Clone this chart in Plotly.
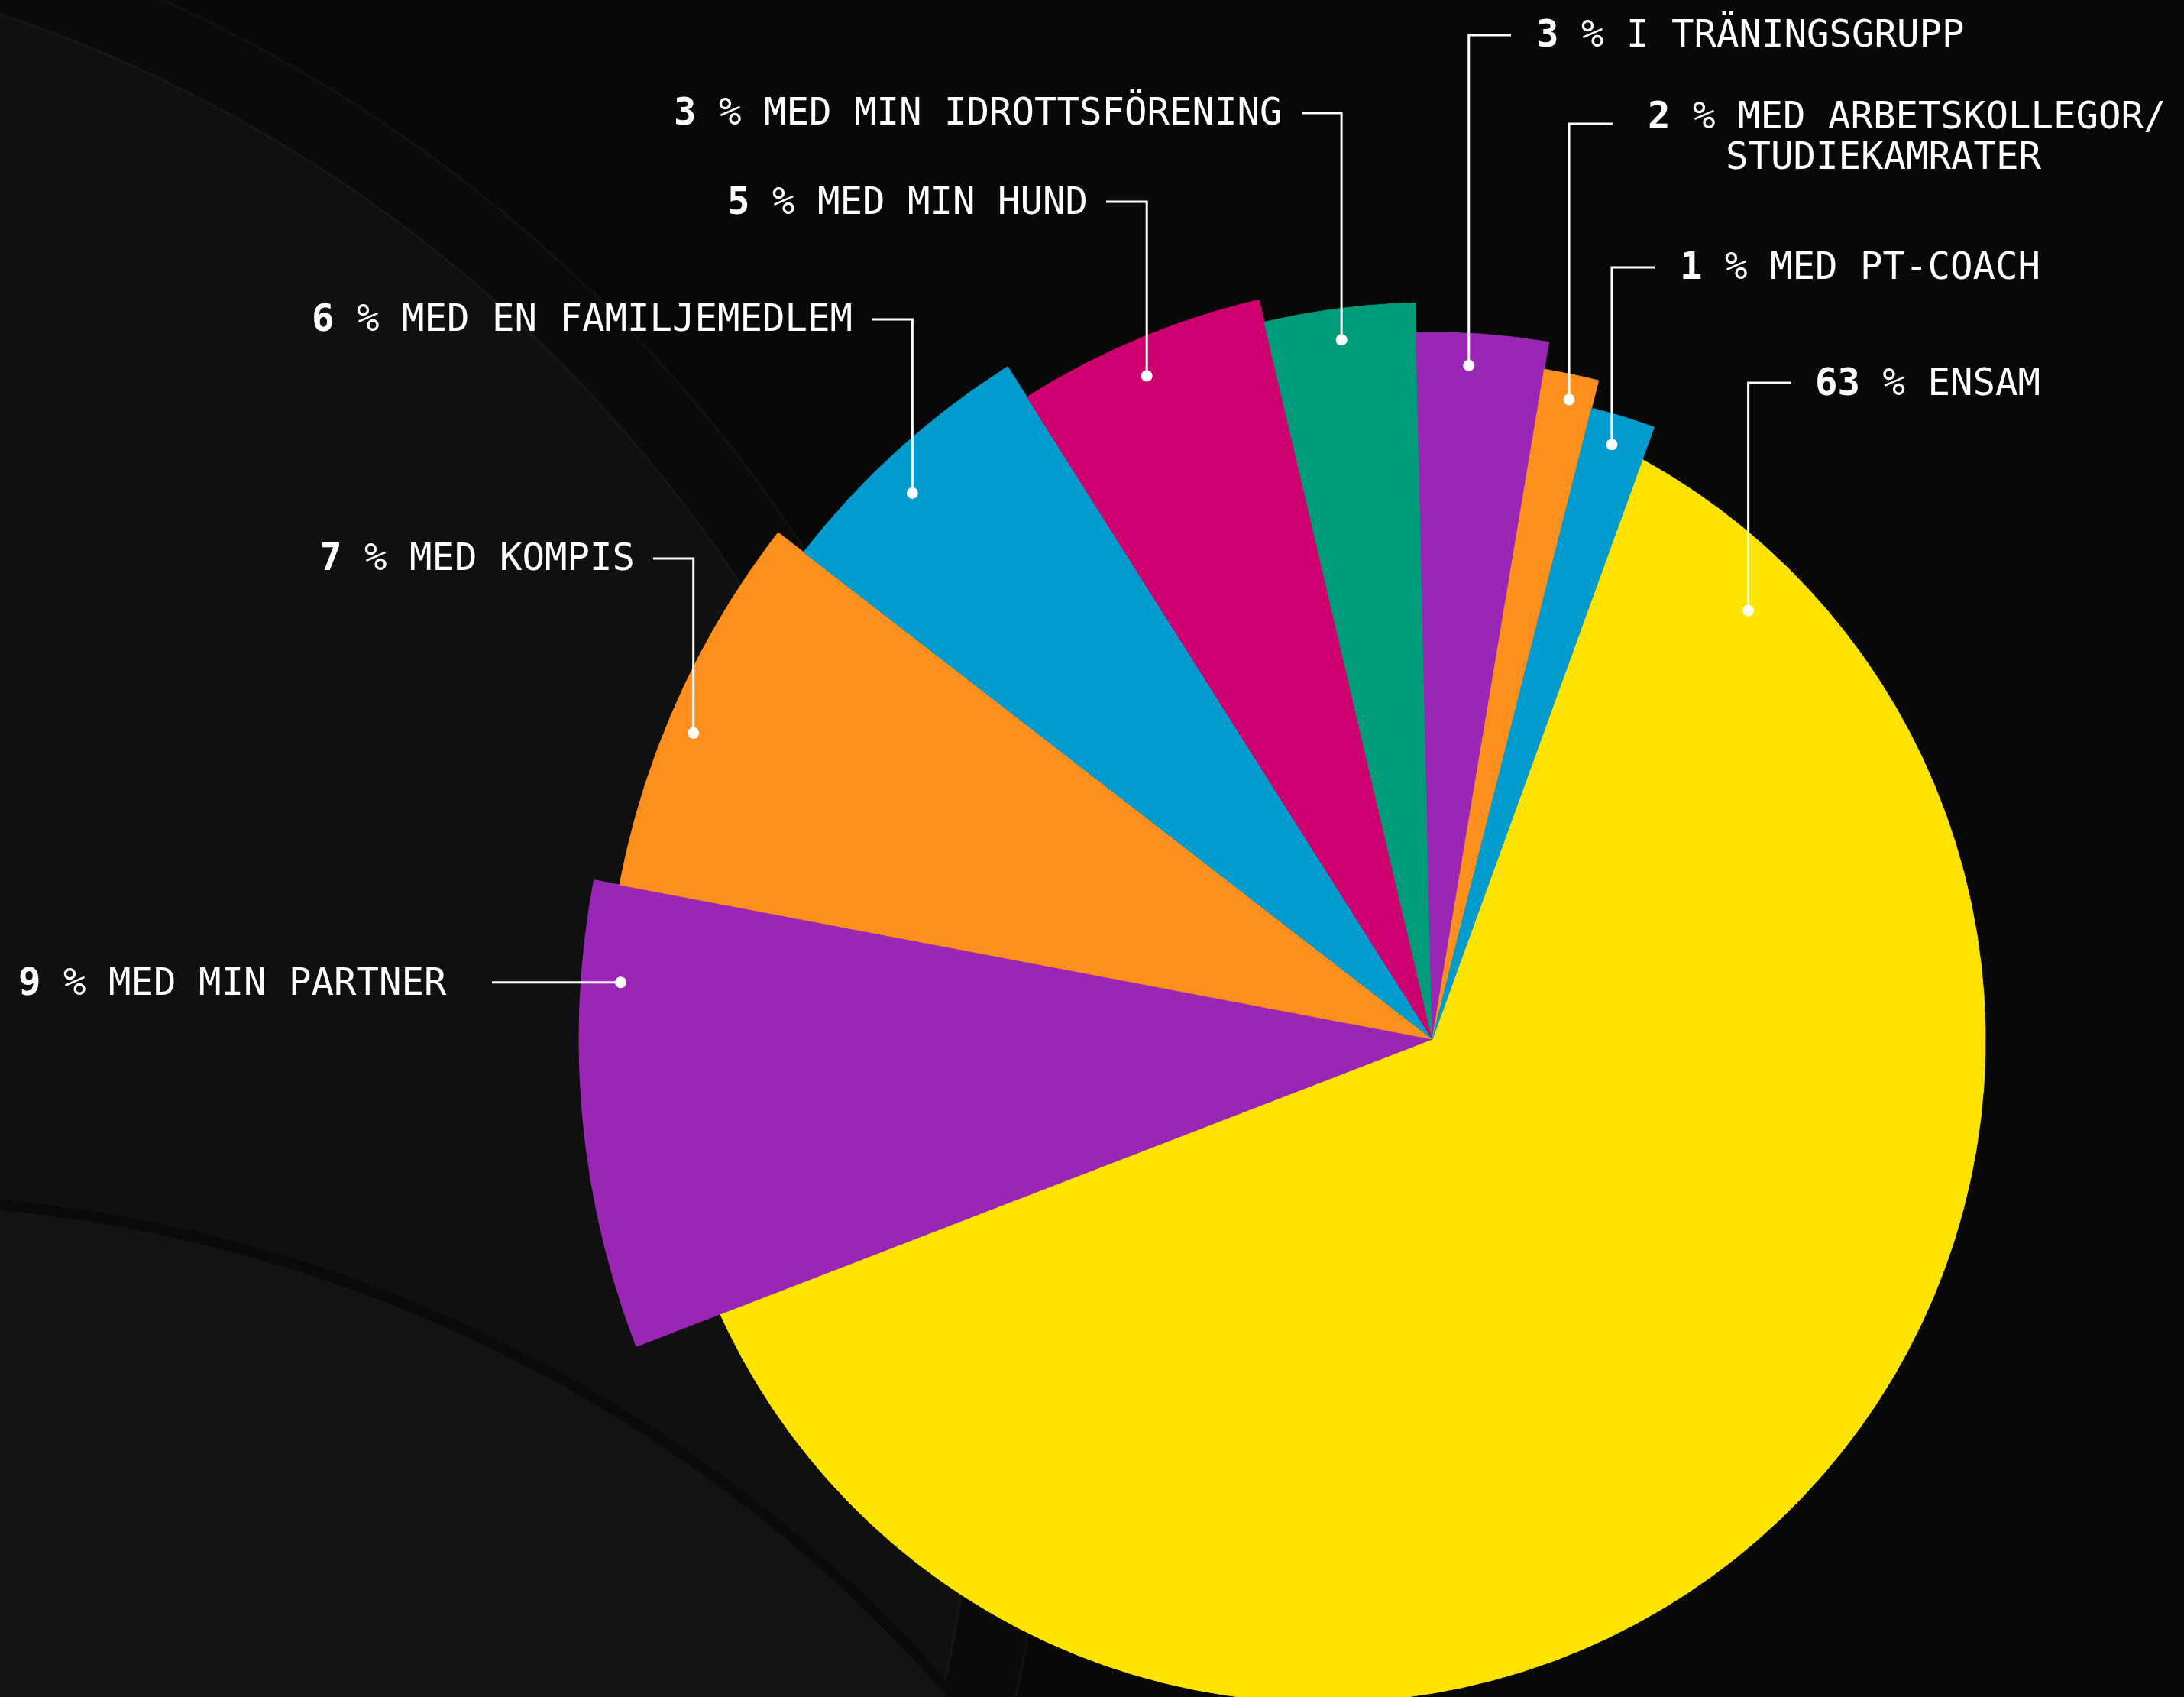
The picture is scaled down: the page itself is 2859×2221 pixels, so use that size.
import numpy as np
import plotly.graph_objects as go

# ---------------- data ----------------
categories = ["ENSAM", "MED MIN PARTNER", "MED KOMPIS", "MED EN FAMILJEMEDLEM",
              "MED MIN HUND", "MED MIN IDROTTSFÖRENING", "I TRÄNINGSGRUPP",
              "MED ARBETSKOLLEGOR/", "MED PT-COACH"]
category_line2 = ["", "", "", "", "", "", "", "STUDIEKAMRATER", ""]
label_pct = [63, 9, 7, 6, 5, 3, 3, 2, 1]
# slice sizes as drawn (share of the full circle, %)
slice_share = [63.6, 8.85, 7.5, 5.55, 5.3, 3.3, 3.0, 1.3, 1.6]

# ---------------- styles ----------------
W, H = 2859, 2221
CX, CY = 1875, 1360            # pie apex in page pixels
START_DEG = 19.93               # clockwise from 12 o'clock
colors = ["#FCE300", "#9A26B5", "#FC8F1E", "#019BCE", "#CE0070",
          "#009B78", "#9A26B5", "#FC8F1E", "#019BCE"]
outer_r = [None, 1117, 1083, 1041, 994, 964, 925, 889, 852]
YELLOW_OFF = (-143.0, -1.0)     # centre of the big slice's arc, relative to apex
YELLOW_R = 867.0

dot_theta = [36.4, 274.0, 292.5, 316.4, 336.7, 352.6, 3.1, 12.07, 16.8]
dot_r = [697, 1065, 1047, 987, 945, 923, 883, 856, 813]
# label text position (px), anchor, leader end x (px), leader y (px)
lab_x = [2374, 587, 833, 1118, 1426, 1681, 2009, 2155, 2197]
lab_y = [500, 1285, 729, 416, 263, 146, 44, 151, 348]
lab_anchor = ["left", "right", "right", "right", "right", "right", "left", "left", "left"]
lead_end_x = [2345, 644, 855, 1141, 1448, 1705, 1978, 2111, 2166]
lead_y = [501, None, 731, 418, 264, 148, 46, 162, 350]
LINE2_DX = 102
LINE2_DY = 53
FONT = "DejaVu Sans Mono"
FSIZE = 49


def dx(px):
    return px - CX


def dy(py):
    return CY - py


def yellow_radius(th):
    ux, uy = np.sin(th), np.cos(th)
    d_dot_u = YELLOW_OFF[0] * ux + YELLOW_OFF[1] * uy
    dd = YELLOW_OFF[0] ** 2 + YELLOW_OFF[1] ** 2
    return d_dot_u + np.sqrt(d_dot_u ** 2 - dd + YELLOW_R ** 2)


fig = go.Figure()

# ---- slices ----
shares = np.array(slice_share, dtype=float)
spans = shares / shares.sum() * 360.0
starts = START_DEG + np.concatenate([[0], np.cumsum(spans)[:-1]])
for i, name in enumerate(categories):
    a0, a1 = starts[i], starts[i] + spans[i]
    n = max(8, int(spans[i] * 4))
    th = np.radians(np.linspace(a0, a1, n))
    if outer_r[i] is None:
        r = yellow_radius(th)
    else:
        r = np.full_like(th, outer_r[i], dtype=float)
    xs = np.concatenate([[0], r * np.sin(th), [0]])
    ys = np.concatenate([[0], r * np.cos(th), [0]])
    fig.add_trace(go.Scatter(
        x=xs, y=ys, mode="lines", fill="toself", fillcolor=colors[i],
        line=dict(color=colors[i], width=1), hoverinfo="text",
        text=f"{label_pct[i]} % {name} {category_line2[i]}", showlegend=False))

# ---- leader lines, dots, labels ----
annotations = []
for i, name in enumerate(categories):
    t = np.radians(dot_theta[i])
    x0, y0 = dot_r[i] * np.sin(t), dot_r[i] * np.cos(t)
    ly = y0 if lead_y[i] is None else dy(lead_y[i])
    fig.add_trace(go.Scatter(
        x=[x0, x0, dx(lead_end_x[i])], y=[y0, ly, ly], mode="lines",
        line=dict(color="white", width=3), hoverinfo="skip", showlegend=False))
    fig.add_trace(go.Scatter(
        x=[x0], y=[y0], mode="markers", marker=dict(color="white", size=15),
        hoverinfo="skip", showlegend=False))
    annotations.append(dict(
        x=dx(lab_x[i]), y=dy(lab_y[i]), xref="x", yref="y",
        text=f"<b>{label_pct[i]}</b> % {name}", showarrow=False,
        xanchor=lab_anchor[i], yanchor="middle",
        font=dict(family=FONT, size=FSIZE, color="white")))
    if category_line2[i]:
        annotations.append(dict(
            x=dx(lab_x[i] + LINE2_DX), y=dy(lab_y[i] + LINE2_DY), xref="x", yref="y",
            text=category_line2[i], showarrow=False,
            xanchor="left", yanchor="middle",
            font=dict(family=FONT, size=FSIZE, color="white")))


# ---- background swooshes ----
def circ(cx, cy, r, fill, line_color=None, lw=0):
    return dict(type="circle", xref="x", yref="y", layer="below",
                x0=dx(cx - r), x1=dx(cx + r), y0=dy(cy + r), y1=dy(cy - r),
                fillcolor=fill,
                line=dict(color=line_color or fill, width=lw))


shapes = [
    circ(-600, 1800, 1975, "#0a0a0a", "#121212", 3),
    circ(-600, 1800, 1880, "#101010", "#171717", 3),
    circ(-182, 3464, 1896, "#131313", "#0a0a0a", 14),
]

fig.update_layout(
    width=W, height=H, margin=dict(l=0, r=0, t=0, b=0),
    paper_bgcolor="#080808", plot_bgcolor="#080808",
    xaxis=dict(range=[dx(0), dx(W)], visible=False, fixedrange=True),
    yaxis=dict(range=[dy(H), dy(0)], visible=False, fixedrange=True),
    annotations=annotations, shapes=shapes, showlegend=False,
)

fig.write_html("out.html")
